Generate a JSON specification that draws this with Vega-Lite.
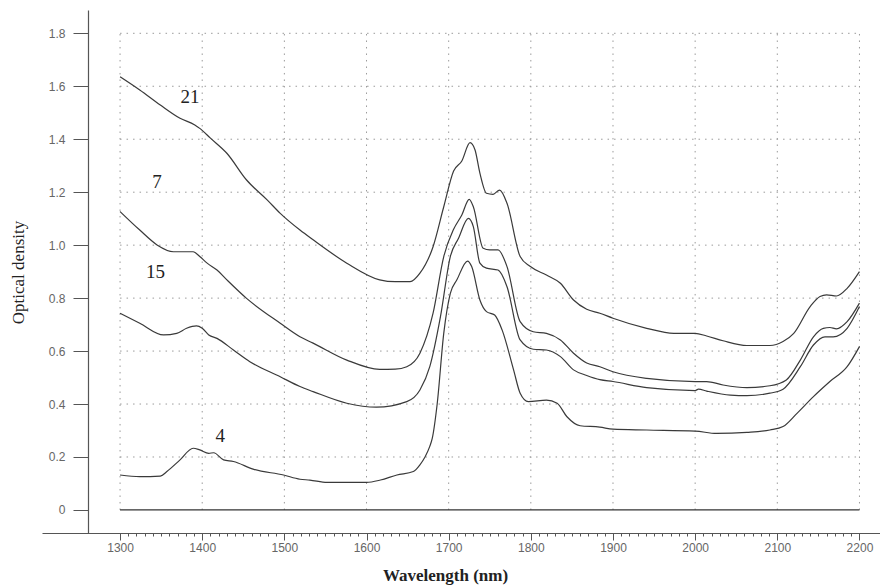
{
  "$schema": "https://vega.github.io/schema/vega-lite/v6.json",
  "width": 838,
  "height": 523,
  "autosize": {"type": "none"},
  "padding": {"left": 42, "top": 10, "right": 0, "bottom": 53},
  "background": "white",
  "config": {"view": {"stroke": null}},
  "resolve": {"axis": {"x": "independent"}},
  "layer": [
    {
      "data": {"values": [{"wl": 1300}, {"wl": 1400}, {"wl": 1500}, {"wl": 1600}, {"wl": 1700}, {"wl": 1800}, {"wl": 1900}, {"wl": 2000}, {"wl": 2100}, {"wl": 2200}]},
      "mark": {"type": "rule", "color": "#9a9a9a", "strokeWidth": 1, "strokeDash": [1.5, 5]},
      "encoding": {
        "x": {
          "field": "wl", "type": "quantitative",
          "scale": {"domain": [1205, 2225], "nice": false, "zero": false},
          "axis": {
            "title": "Wavelength (nm)",
            "orient": "bottom",
            "values": [1300,1400,1500,1600,1700,1800,1900,2000,2100,2200],
            "format": "d",
            "tickSize": 7,
            "tickColor": "#555555",
            "tickWidth": 1,
            "domainColor": "#555555",
            "domainWidth": 1.2,
            "grid": false,
            "labelFont": "Liberation Sans",
            "labelFontSize": 12,
            "labelColor": "#666666",
            "labelPadding": 2,
            "labelFlush": false,
            "labelOverlap": false,
            "titleFont": "Liberation Serif",
            "titleFontSize": 17,
            "titleFontWeight": "bold",
            "titleColor": "#222222",
            "titleX": 403,
            "titleY": 42,
            "titleBaseline": "middle"
          }
        },
        "y": {"datum": 0, "type": "quantitative", "scale": {"domain": [-0.087, 1.888], "nice": false, "zero": false}},
        "y2": {"datum": 1.8}
      }
    },
    {
      "data": {"values": [{"v": 0.2}, {"v": 0.4}, {"v": 0.6}, {"v": 0.8}, {"v": 1.0}, {"v": 1.2}, {"v": 1.4}, {"v": 1.6}, {"v": 1.8}]},
      "mark": {"type": "rule", "color": "#9a9a9a", "strokeWidth": 1, "strokeDash": [1.5, 5]},
      "encoding": {
        "y": {
          "field": "v", "type": "quantitative",
          "axis": {
            "title": "Optical density",
            "offset": -46,
            "values": [0,0.05,0.1,0.15,0.2,0.25,0.3,0.35,0.4,0.45,0.5,0.55,0.6,0.65,0.7,0.75,0.8,0.85,0.9,0.95,1.0,1.05,1.1,1.15,1.2,1.25,1.3,1.35,1.4,1.45,1.5,1.55,1.6,1.65,1.7,1.75,1.8],
            "labelExpr": "round(datum.value*100) % 20 === 0 ? (datum.value === 0 ? '0' : format(datum.value, '.1f')) : ''",
            "tickSize": {"condition": {"test": "round(datum.value*100) % 20 === 0", "value": 15}, "value": 7},
            "tickColor": "#555555",
            "tickWidth": 1,
            "domainColor": "#555555",
            "domainWidth": 1.2,
            "grid": false,
            "labelFont": "Liberation Sans",
            "labelFontSize": 12,
            "labelColor": "#666666",
            "labelPadding": 8,
            "labelFlush": false,
            "labelOverlap": false,
            "titleFont": "Liberation Serif",
            "titleFontSize": 17,
            "titleFontWeight": "normal",
            "titleColor": "#222222",
            "titleX": -70,
            "titleY": 262,
            "titleAngle": -90,
            "titleAlign": "center",
            "titleBaseline": "middle"
          }
        },
        "x": {"datum": 1300, "type": "quantitative", "axis": null},
        "x2": {"datum": 2200}
      }
    },
    {
      "data": {"values": [{"wl": 1300, "wl2": 2200, "v": 0}]},
      "mark": {"type": "rule", "color": "#333333", "strokeWidth": 1.3},
      "encoding": {
        "y": {"field": "v", "type": "quantitative"},
        "x": {
          "field": "wl", "type": "quantitative",
          "axis": {
            "orient": "bottom",
            "title": null,
            "values": [1310,1320,1330,1340,1350,1360,1370,1380,1390,1410,1420,1430,1440,1450,1460,1470,1480,1490,1510,1520,1530,1540,1550,1560,1570,1580,1590,1610,1620,1630,1640,1650,1660,1670,1680,1690,1710,1720,1730,1740,1750,1760,1770,1780,1790,1810,1820,1830,1840,1850,1860,1870,1880,1890,1910,1920,1930,1940,1950,1960,1970,1980,1990,2010,2020,2030,2040,2050,2060,2070,2080,2090,2110,2120,2130,2140,2150,2160,2170,2180,2190],
            "labels": false,
            "domain": false,
            "grid": false,
            "tickSize": 3,
            "tickColor": "#555555",
            "tickWidth": 1
          }
        },
        "x2": {"field": "wl2"}
      }
    },
    {
      "data": {"values": [
        {"s": "21", "wl": 1300, "v": 1.636}, {"s": "21", "wl": 1324, "v": 1.586}, {"s": "21", "wl": 1349, "v": 1.529}, {"s": "21", "wl": 1373, "v": 1.479}, {"s": "21", "wl": 1391, "v": 1.454}, {"s": "21", "wl": 1397, "v": 1.441}, {"s": "21", "wl": 1410, "v": 1.404}, {"s": "21", "wl": 1430, "v": 1.347}, {"s": "21", "wl": 1454, "v": 1.246}, {"s": "21", "wl": 1479, "v": 1.171}, {"s": "21", "wl": 1495, "v": 1.12}, {"s": "21", "wl": 1519, "v": 1.057}, {"s": "21", "wl": 1535, "v": 1.02}, {"s": "21", "wl": 1576, "v": 0.932}, {"s": "21", "wl": 1616, "v": 0.869}, {"s": "21", "wl": 1635, "v": 0.862}, {"s": "21", "wl": 1653, "v": 0.862}, {"s": "21", "wl": 1665, "v": 0.894}, {"s": "21", "wl": 1681, "v": 0.994}, {"s": "21", "wl": 1694, "v": 1.145}, {"s": "21", "wl": 1706, "v": 1.28}, {"s": "21", "wl": 1716, "v": 1.318}, {"s": "21", "wl": 1726, "v": 1.387}, {"s": "21", "wl": 1732, "v": 1.36}, {"s": "21", "wl": 1738, "v": 1.272}, {"s": "21", "wl": 1746, "v": 1.196}, {"s": "21", "wl": 1754, "v": 1.192}, {"s": "21", "wl": 1762, "v": 1.208}, {"s": "21", "wl": 1771, "v": 1.158}, {"s": "21", "wl": 1787, "v": 0.957}, {"s": "21", "wl": 1799, "v": 0.92}, {"s": "21", "wl": 1819, "v": 0.887}, {"s": "21", "wl": 1836, "v": 0.856}, {"s": "21", "wl": 1852, "v": 0.793}, {"s": "21", "wl": 1868, "v": 0.758}, {"s": "21", "wl": 1884, "v": 0.743}, {"s": "21", "wl": 1900, "v": 0.724}, {"s": "21", "wl": 1941, "v": 0.686}, {"s": "21", "wl": 1974, "v": 0.667}, {"s": "21", "wl": 2000, "v": 0.667}, {"s": "21", "wl": 2014, "v": 0.657}, {"s": "21", "wl": 2034, "v": 0.639}, {"s": "21", "wl": 2063, "v": 0.621}, {"s": "21", "wl": 2091, "v": 0.621}, {"s": "21", "wl": 2107, "v": 0.636}, {"s": "21", "wl": 2120, "v": 0.667}, {"s": "21", "wl": 2140, "v": 0.768}, {"s": "21", "wl": 2152, "v": 0.806}, {"s": "21", "wl": 2160, "v": 0.812}, {"s": "21", "wl": 2172, "v": 0.808}, {"s": "21", "wl": 2185, "v": 0.837}, {"s": "21", "wl": 2200, "v": 0.9},
        {"s": "7", "wl": 1300, "v": 1.127}, {"s": "7", "wl": 1324, "v": 1.057}, {"s": "7", "wl": 1345, "v": 1.001}, {"s": "7", "wl": 1365, "v": 0.975}, {"s": "7", "wl": 1389, "v": 0.975}, {"s": "7", "wl": 1397, "v": 0.957}, {"s": "7", "wl": 1406, "v": 0.932}, {"s": "7", "wl": 1418, "v": 0.906}, {"s": "7", "wl": 1430, "v": 0.869}, {"s": "7", "wl": 1454, "v": 0.799}, {"s": "7", "wl": 1495, "v": 0.705}, {"s": "7", "wl": 1519, "v": 0.654}, {"s": "7", "wl": 1535, "v": 0.63}, {"s": "7", "wl": 1576, "v": 0.566}, {"s": "7", "wl": 1616, "v": 0.531}, {"s": "7", "wl": 1635, "v": 0.532}, {"s": "7", "wl": 1649, "v": 0.541}, {"s": "7", "wl": 1665, "v": 0.592}, {"s": "7", "wl": 1681, "v": 0.743}, {"s": "7", "wl": 1694, "v": 0.957}, {"s": "7", "wl": 1706, "v": 1.06}, {"s": "7", "wl": 1716, "v": 1.114}, {"s": "7", "wl": 1725, "v": 1.173}, {"s": "7", "wl": 1730, "v": 1.145}, {"s": "7", "wl": 1742, "v": 0.988}, {"s": "7", "wl": 1750, "v": 0.982}, {"s": "7", "wl": 1760, "v": 0.982}, {"s": "7", "wl": 1771, "v": 0.919}, {"s": "7", "wl": 1787, "v": 0.711}, {"s": "7", "wl": 1803, "v": 0.673}, {"s": "7", "wl": 1819, "v": 0.667}, {"s": "7", "wl": 1836, "v": 0.642}, {"s": "7", "wl": 1852, "v": 0.592}, {"s": "7", "wl": 1868, "v": 0.555}, {"s": "7", "wl": 1884, "v": 0.541}, {"s": "7", "wl": 1900, "v": 0.522}, {"s": "7", "wl": 1941, "v": 0.497}, {"s": "7", "wl": 2000, "v": 0.485}, {"s": "7", "wl": 2014, "v": 0.485}, {"s": "7", "wl": 2034, "v": 0.472}, {"s": "7", "wl": 2063, "v": 0.462}, {"s": "7", "wl": 2091, "v": 0.469}, {"s": "7", "wl": 2111, "v": 0.491}, {"s": "7", "wl": 2128, "v": 0.566}, {"s": "7", "wl": 2144, "v": 0.654}, {"s": "7", "wl": 2156, "v": 0.686}, {"s": "7", "wl": 2164, "v": 0.689}, {"s": "7", "wl": 2172, "v": 0.684}, {"s": "7", "wl": 2185, "v": 0.711}, {"s": "7", "wl": 2200, "v": 0.781},
        {"s": "15", "wl": 1300, "v": 0.743}, {"s": "15", "wl": 1324, "v": 0.705}, {"s": "15", "wl": 1353, "v": 0.661}, {"s": "15", "wl": 1369, "v": 0.667}, {"s": "15", "wl": 1381, "v": 0.686}, {"s": "15", "wl": 1393, "v": 0.695}, {"s": "15", "wl": 1400, "v": 0.686}, {"s": "15", "wl": 1408, "v": 0.661}, {"s": "15", "wl": 1418, "v": 0.648}, {"s": "15", "wl": 1438, "v": 0.604}, {"s": "15", "wl": 1458, "v": 0.56}, {"s": "15", "wl": 1495, "v": 0.503}, {"s": "15", "wl": 1519, "v": 0.466}, {"s": "15", "wl": 1535, "v": 0.447}, {"s": "15", "wl": 1576, "v": 0.403}, {"s": "15", "wl": 1612, "v": 0.388}, {"s": "15", "wl": 1649, "v": 0.409}, {"s": "15", "wl": 1665, "v": 0.453}, {"s": "15", "wl": 1677, "v": 0.541}, {"s": "15", "wl": 1690, "v": 0.73}, {"s": "15", "wl": 1702, "v": 0.957}, {"s": "15", "wl": 1712, "v": 1.026}, {"s": "15", "wl": 1724, "v": 1.101}, {"s": "15", "wl": 1730, "v": 1.07}, {"s": "15", "wl": 1738, "v": 0.932}, {"s": "15", "wl": 1746, "v": 0.913}, {"s": "15", "wl": 1760, "v": 0.906}, {"s": "15", "wl": 1771, "v": 0.843}, {"s": "15", "wl": 1787, "v": 0.642}, {"s": "15", "wl": 1803, "v": 0.607}, {"s": "15", "wl": 1819, "v": 0.604}, {"s": "15", "wl": 1836, "v": 0.579}, {"s": "15", "wl": 1852, "v": 0.529}, {"s": "15", "wl": 1868, "v": 0.508}, {"s": "15", "wl": 1884, "v": 0.492}, {"s": "15", "wl": 1900, "v": 0.485}, {"s": "15", "wl": 1941, "v": 0.462}, {"s": "15", "wl": 2000, "v": 0.451}, {"s": "15", "wl": 2004, "v": 0.456}, {"s": "15", "wl": 2014, "v": 0.449}, {"s": "15", "wl": 2043, "v": 0.434}, {"s": "15", "wl": 2063, "v": 0.432}, {"s": "15", "wl": 2091, "v": 0.441}, {"s": "15", "wl": 2107, "v": 0.456}, {"s": "15", "wl": 2128, "v": 0.541}, {"s": "15", "wl": 2144, "v": 0.623}, {"s": "15", "wl": 2158, "v": 0.654}, {"s": "15", "wl": 2168, "v": 0.654}, {"s": "15", "wl": 2185, "v": 0.686}, {"s": "15", "wl": 2200, "v": 0.768},
        {"s": "4", "wl": 1300, "v": 0.132}, {"s": "4", "wl": 1324, "v": 0.126}, {"s": "4", "wl": 1349, "v": 0.128}, {"s": "4", "wl": 1357, "v": 0.145}, {"s": "4", "wl": 1373, "v": 0.189}, {"s": "4", "wl": 1389, "v": 0.233}, {"s": "4", "wl": 1397, "v": 0.227}, {"s": "4", "wl": 1408, "v": 0.214}, {"s": "4", "wl": 1414, "v": 0.216}, {"s": "4", "wl": 1426, "v": 0.189}, {"s": "4", "wl": 1438, "v": 0.183}, {"s": "4", "wl": 1462, "v": 0.154}, {"s": "4", "wl": 1499, "v": 0.132}, {"s": "4", "wl": 1519, "v": 0.116}, {"s": "4", "wl": 1531, "v": 0.113}, {"s": "4", "wl": 1552, "v": 0.104}, {"s": "4", "wl": 1600, "v": 0.104}, {"s": "4", "wl": 1617, "v": 0.113}, {"s": "4", "wl": 1637, "v": 0.132}, {"s": "4", "wl": 1657, "v": 0.145}, {"s": "4", "wl": 1665, "v": 0.17}, {"s": "4", "wl": 1671, "v": 0.199}, {"s": "4", "wl": 1677, "v": 0.24}, {"s": "4", "wl": 1680, "v": 0.27}, {"s": "4", "wl": 1686, "v": 0.4}, {"s": "4", "wl": 1694, "v": 0.667}, {"s": "4", "wl": 1702, "v": 0.818}, {"s": "4", "wl": 1710, "v": 0.869}, {"s": "4", "wl": 1723, "v": 0.94}, {"s": "4", "wl": 1728, "v": 0.919}, {"s": "4", "wl": 1738, "v": 0.793}, {"s": "4", "wl": 1746, "v": 0.749}, {"s": "4", "wl": 1756, "v": 0.736}, {"s": "4", "wl": 1765, "v": 0.68}, {"s": "4", "wl": 1779, "v": 0.529}, {"s": "4", "wl": 1787, "v": 0.441}, {"s": "4", "wl": 1797, "v": 0.409}, {"s": "4", "wl": 1819, "v": 0.415}, {"s": "4", "wl": 1832, "v": 0.403}, {"s": "4", "wl": 1844, "v": 0.352}, {"s": "4", "wl": 1860, "v": 0.318}, {"s": "4", "wl": 1884, "v": 0.313}, {"s": "4", "wl": 1900, "v": 0.305}, {"s": "4", "wl": 1941, "v": 0.302}, {"s": "4", "wl": 2000, "v": 0.298}, {"s": "4", "wl": 2026, "v": 0.289}, {"s": "4", "wl": 2063, "v": 0.293}, {"s": "4", "wl": 2091, "v": 0.302}, {"s": "4", "wl": 2107, "v": 0.315}, {"s": "4", "wl": 2124, "v": 0.365}, {"s": "4", "wl": 2144, "v": 0.428}, {"s": "4", "wl": 2164, "v": 0.485}, {"s": "4", "wl": 2185, "v": 0.541}, {"s": "4", "wl": 2200, "v": 0.617}
      ]},
      "mark": {"type": "line", "color": "#3a3a3a", "strokeWidth": 1.2, "interpolate": "monotone"},
      "encoding": {
        "x": {"field": "wl", "type": "quantitative", "axis": null},
        "y": {"field": "v", "type": "quantitative"},
        "detail": {"field": "s"}
      }
    },
    {
      "data": {"values": [
        {"label": "21", "wl": 1385, "v": 1.56},
        {"label": "7", "wl": 1345, "v": 1.239},
        {"label": "15", "wl": 1343, "v": 0.899},
        {"label": "4", "wl": 1422, "v": 0.279}
      ]},
      "mark": {"type": "text", "font": "Liberation Serif", "fontSize": 19, "color": "#222222", "align": "center", "baseline": "middle"},
      "encoding": {
        "x": {"field": "wl", "type": "quantitative", "axis": null},
        "y": {"field": "v", "type": "quantitative"},
        "text": {"field": "label"}
      }
    }
  ]
}
